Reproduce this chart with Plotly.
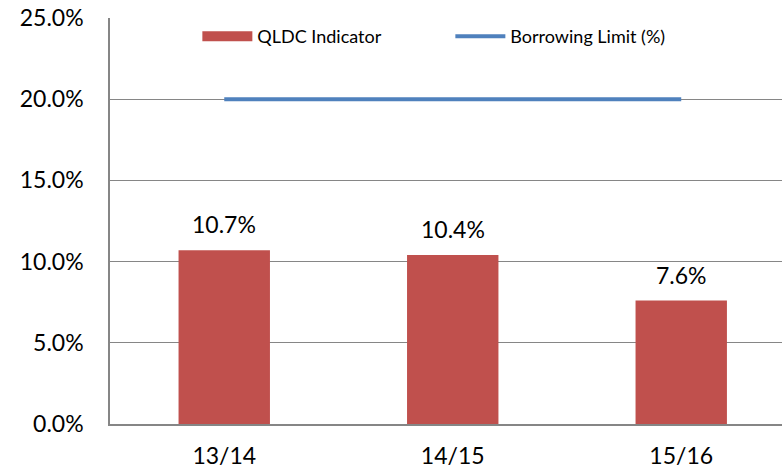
import plotly.graph_objects as go

# Debt servicing indicator vs. borrowing limit, by financial year
categories = ["13/14", "14/15", "15/16"]
qldc_indicator = [10.7, 10.4, 7.6]
borrowing_limit = [20.0, 20.0, 20.0]

bar_color = "#C0504D"
line_color = "#4F81BD"
grid_color = "#868686"
font_family = "Lato, 'Open Sans', sans-serif"

fig = go.Figure()

fig.add_trace(go.Bar(
    x=categories,
    y=qldc_indicator,
    name="QLDC Indicator",
    marker=dict(color=bar_color, line=dict(width=0)),
    width=0.4,
    showlegend=False,
))

# legend key for the bars, drawn as a wide block
fig.add_trace(go.Scatter(
    x=[None], y=[None],
    name="QLDC Indicator",
    mode="lines",
    line=dict(color=bar_color, width=10),
))

fig.add_trace(go.Scatter(
    x=categories,
    y=borrowing_limit,
    name="Borrowing Limit (%)",
    mode="lines",
    line=dict(color=line_color, width=4),
))

# value labels above each bar
for cat, val in zip(categories, qldc_indicator):
    fig.add_annotation(
        x=cat, y=val, text=f"{val:.1f}%", showarrow=False,
        yshift=26, font=dict(size=23, color="#000000", family=font_family),
    )

fig.update_layout(
    width=782, height=471,
    margin=dict(l=110, r=0, t=18, b=47),
    paper_bgcolor="white", plot_bgcolor="white",
    font=dict(family=font_family, color="#000000"),
    showlegend=True,
    legend=dict(
        orientation="h", x=0.13, y=1.0, xanchor="left", yanchor="top",
        font=dict(size=18), entrywidth=188, bgcolor="rgba(0,0,0,0)",
        itemwidth=50,
    ),
    bargap=0.6,
)

fig.update_xaxes(
    range=[-0.5, 2.441],
    showline=True, linecolor=grid_color, linewidth=1.5,
    showgrid=False, ticks="",
    tickfont=dict(size=23),
    ticklabelstandoff=11,
    automargin=False,
)

fig.update_yaxes(
    range=[0, 25], dtick=5, tickformat=".1f", ticksuffix="%",
    showline=True, linecolor=grid_color, linewidth=1.5,
    showgrid=True, gridcolor=grid_color, gridwidth=1.2,
    zeroline=False, ticks="",
    tickfont=dict(size=23),
    ticklabelstandoff=20,
    automargin=False,
)

fig.write_html("out.html")
